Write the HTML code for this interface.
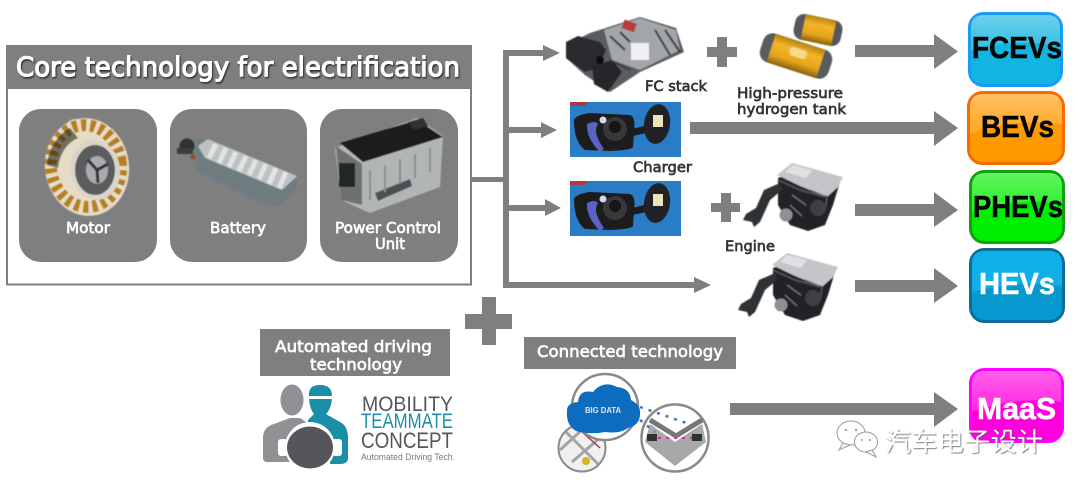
<!DOCTYPE html>
<html><head><meta charset="utf-8">
<style>
html,body{margin:0;padding:0;background:#fff;width:1080px;height:490px;overflow:hidden}
svg{display:block}
.l{font-family:"DejaVu Sans",sans-serif;fill:#333;stroke:#333;stroke-width:.65}
.w{font-family:"DejaVu Sans",sans-serif;fill:#fff;stroke:#fff;stroke-width:.65}
.b{font-family:"Liberation Sans",sans-serif;font-weight:bold;font-size:31px;stroke-width:.5}
.m{font-family:"Liberation Sans",sans-serif}
</style></head><body>
<svg width="1080" height="490" viewBox="0 0 1080 490" xmlns="http://www.w3.org/2000/svg">
<defs>
<filter id="s" x="-10%" y="-10%" width="120%" height="120%"><feGaussianBlur stdDeviation="0.6"/></filter>
<filter id="t" x="-5%" y="-20%" width="110%" height="140%"><feGaussianBlur stdDeviation="0.25"/></filter>
<filter id="sh" x="-5%" y="-20%" width="110%" height="140%"><feDropShadow dx="1" dy="1.500" stdDeviation="0.8" flood-color="#222" flood-opacity="0.9"/></filter>
<filter id="wm" x="-5%" y="-20%" width="110%" height="140%"><feDropShadow dx="0.8" dy="0.8" stdDeviation="0.4" flood-color="#555" flood-opacity="0.9"/></filter>
<linearGradient id="am" x1="0" y1="0" x2="0" y2="1"><stop offset="0" stop-color="#b5800f"/><stop offset=".3" stop-color="#f2b52a"/><stop offset=".7" stop-color="#e5a51a"/><stop offset="1" stop-color="#86600f"/></linearGradient>
<linearGradient id="gl" x1="0" y1="0" x2="0" y2="1"><stop offset="0" stop-color="#fff" stop-opacity=".38"/><stop offset="1" stop-color="#fff" stop-opacity=".14"/></linearGradient>
<g id="engine">
<polygon points="778,178 795,172 840,182 833,205 825,225 808,231 790,225 778,205" fill="#222426"/>
<polygon points="743,220 752,222 754,227 760,222 770,200 782,190 780,183 764,190 756,208 746,214" fill="#2e3134"/>
<polygon points="777,175 792,163 843,177 838,187 827,197 800,186" fill="#c3c5c8"/>
<polygon points="792,165 812,170 806,178 785,172" fill="#dfe0e2"/>
<path d="M778,180 L800,190 L827,197 L825,210" stroke="#4c4f52" stroke-width="2" fill="none"/>
<circle cx="786" cy="215" r="6.500" fill="#8d9094"/>
<circle cx="818" cy="208" r="8" fill="#3e4144"/>
<path d="M792,195 L806,205 M790,205 L802,216 M810,190 L824,196" stroke="#6a6d70" stroke-width="1.500"/>
</g>
<g id="charger">
<rect x="570" y="0" width="111" height="55" fill="#2a7cc6"/>
<path d="M570,0 h18 l-3,4 h-15z" fill="#a83a44"/>
<path d="M574,18 Q576,13 590,11 L630,13 Q636,15 634,30 L633,45 Q632,48 610,49 L585,48 Q574,40 574,18Z" fill="#1c1c1e"/>
<path d="M587,22 Q595,18 598,22 Q592,30 604,47 L600,50 Q586,36 587,22Z" fill="#5a62c4"/>
<circle cx="615" cy="27" r="12" fill="#38383a"/>
<circle cx="615" cy="25" r="6" fill="#151515"/>
<circle cx="603" cy="18" r="3.500" fill="#cfd8f0"/>
<polygon points="632,27 652,22 652,30 632,34" fill="#1c1c1e"/>
<ellipse cx="657" cy="22" rx="13" ry="20" fill="#242426" transform="rotate(8 657 22)"/>
<rect x="653" y="13" width="10" height="12" fill="#ece4b8"/>
</g>
</defs>

<!-- Core box -->
<rect x="7" y="46" width="464" height="238.500" fill="#fff" stroke="#7f7f7f" stroke-width="2"/>
<rect x="6" y="45" width="466" height="44" fill="#7f7f7f"/>
<text class="w" x="16" y="76" font-size="27" style="stroke-width:1.100" textLength="444" lengthAdjust="spacingAndGlyphs" filter="url(#sh)">Core technology for electrification</text>

<rect x="19" y="109" width="138" height="153" rx="22" fill="#7f7f7f"/>
<rect x="170" y="109" width="137" height="153" rx="22" fill="#7f7f7f"/>
<rect x="320" y="109" width="138" height="153" rx="22" fill="#7f7f7f"/>

<!-- Motor -->
<g filter="url(#s)">
<path d="M62,135 Q66,118 76,119 Q81,124 72,134Z" fill="#c9c5bb"/>
<ellipse cx="87" cy="167" rx="42" ry="49" fill="#e6dcc6" transform="rotate(-8 87 167)"/>
<ellipse cx="86" cy="166" rx="35" ry="41" fill="none" stroke="#b67f1e" stroke-width="12" stroke-dasharray="5 4" transform="rotate(-8 86 166)"/>
<path d="M47,165 A40,46 0 0 1 70,128 L78,138 A30,36 0 0 0 58,168Z" fill="#2a2418" opacity=".6"/>
<ellipse cx="95" cy="170" rx="25" ry="30" fill="#dad5c8" transform="rotate(-8 95 170)"/>
<ellipse cx="95" cy="170" rx="20" ry="25" fill="#5a5b5d"/>
<ellipse cx="97" cy="170" rx="11" ry="14" fill="#a9abae"/>
<path d="M97,170 L88,160 M97,170 L108,164 M97,170 L98,183" stroke="#333" stroke-width="3"/>
</g>
<!-- Battery -->
<g filter="url(#s)">
<polygon points="190,147 200,138 297,176 297,190 278,207 262,204 198,172" fill="#6f7d80"/>
<polygon points="198,146 208,139 297,176 282,190 205,158" fill="#bcc1c3"/>
<path d="M216,144 L209,158 M226,148 L219,163 M236,152 L229,167 M246,156 L239,171 M256,160 L249,175 M266,164 L259,179 M276,168 L269,184 M286,172 L279,188" stroke="#e2e4e4" stroke-width="5"/>
<circle cx="187" cy="146" r="7.500" fill="#2e3032"/>
<rect x="177" y="148" width="16" height="6" fill="#3c3c3c"/>
<circle cx="193" cy="157" r="2.500" fill="#a04030"/>
</g>
<!-- PCU -->
<g filter="url(#s)">
<polygon points="335,148 417,118 443,136 440,187 370,213 341,200" fill="#b2b5b6"/>
<polygon points="340,143 417,120 443,137 363,162" fill="#1c1d1f"/>
<polygon points="336,146 362,164 362,205 341,200" fill="#6e7072"/>
<rect x="339" y="163" width="16" height="24" fill="#232527"/>
<polygon points="375,193 410,179 412,186 378,201" fill="#4d5052"/>
<path d="M370,170 L370,200 M385,165 L385,192 M400,159 L400,184 M415,154 L415,178 M430,148 L430,172" stroke="#8a8d8f" stroke-width="2"/>
<polygon points="408,122 423,118 428,126 414,130" fill="#2f3032"/>
</g>
<text class="w" x="66" y="233" font-size="15" textLength="44" lengthAdjust="spacingAndGlyphs" filter="url(#t)">Motor</text>
<text class="w" x="210" y="233" font-size="15" textLength="56" lengthAdjust="spacingAndGlyphs" filter="url(#t)">Battery</text>
<text class="w" x="335" y="233" font-size="15" textLength="106" lengthAdjust="spacingAndGlyphs" filter="url(#t)">Power Control</text>
<text class="w" x="375" y="249" font-size="15" textLength="30" lengthAdjust="spacingAndGlyphs" filter="url(#t)">Unit</text>

<!-- Connectors -->
<g fill="#7f7f7f">
<rect x="472" y="177" width="34" height="5"/>
<rect x="503" y="50" width="6" height="238"/>
<polygon points="503,50 543,50 543,45 560,53 543,61 543,56 503,56"/>
<polygon points="506,127 541,127 541,122 557,130 541,138 541,133 506,133"/>
<polygon points="506,205 545,205 545,199 561,208 545,216 545,211 506,211"/>
<polygon points="503,282 694,282 694,277 711,285 694,293 694,288 503,288"/>
<polygon points="855,45 934,45 934,34 958,51.500 934,69 934,57 855,57"/>
<polygon points="690,122 934,122 934,111 958,128 934,146 934,134 690,134"/>
<polygon points="855,204 934,204 934,192 958,210 934,227 934,216 855,216"/>
<polygon points="855,280 934,280 934,268 958,286 934,303 934,292 855,292"/>
<polygon points="730,403 934,403 934,392 958,409 934,427 934,415 730,415"/>
<polygon points="717,37 727,37 727,47 737,47 737,57 727,57 727,67 717,67 717,57 707,57 707,47 717,47"/>
<polygon points="721,193 731,193 731,203 740,203 740,212 731,212 731,222 721,222 721,212 711,212 711,203 721,203"/>
<polygon points="482,297 496,297 496,314 512,314 512,329 496,329 496,345 482,345 482,329 465,329 465,314 482,314"/>
<rect x="260" y="329" width="190" height="47"/>
<rect x="524" y="337" width="212" height="32"/>
</g>

<!-- FC stack -->
<g filter="url(#s)">
<polygon points="566,45 590,33 640,17 676,28 684,52 640,72 610,92 585,75 566,58" fill="#5a5d61"/>
<polygon points="566,42 578,36 600,42 606,50 598,68 585,72 566,58" fill="#2a2b2e"/>
<polygon points="604,30 640,18 676,30 680,50 640,70 612,60" fill="#a2a5a9"/>
<rect x="631" y="43" width="18" height="17" fill="#f0f0f0"/>
<rect x="623" y="21" width="13" height="9" fill="#b93a3a" transform="rotate(20 628 25)"/>
<polygon points="592,66 612,60 622,72 608,92 594,84" fill="#26272a"/>
<path d="M610,36 L625,50 M620,32 L630,42 M655,30 L670,55 M665,30 L680,52 M610,60 L630,70" stroke="#3a3c40" stroke-width="2"/>
<circle cx="600" cy="60" r="4" fill="#101010"/>
</g>
<text class="l" x="645" y="91" font-size="14.500" textLength="62" lengthAdjust="spacingAndGlyphs" filter="url(#t)">FC stack</text>

<!-- Tanks -->
<g filter="url(#s)">
<g transform="rotate(12 818 30)">
<rect x="794" y="17" width="48" height="26" rx="9" fill="#55585c"/>
<rect x="803" y="17" width="31" height="26" fill="url(#am)"/>
</g>
<g transform="rotate(18 796 56)">
<rect x="760" y="41" width="72" height="30" rx="10" fill="#5a5d61"/>
<rect x="770" y="41" width="52" height="30" fill="url(#am)"/>
<rect x="788" y="48" width="18" height="9" rx="4" fill="#f5d88a"/>
</g>
</g>
<text class="l" x="737" y="98" font-size="14.500" textLength="106" lengthAdjust="spacingAndGlyphs" filter="url(#t)">High-pressure</text>
<text class="l" x="737" y="114" font-size="14.500" textLength="109" lengthAdjust="spacingAndGlyphs" filter="url(#t)">hydrogen tank</text>

<!-- Chargers -->
<g filter="url(#t)">
<use href="#charger" y="102"/>
<use href="#charger" y="181"/>
</g>
<text class="l" x="633" y="172" font-size="14.500" textLength="59" lengthAdjust="spacingAndGlyphs" filter="url(#t)">Charger</text>

<!-- Engines -->
<g filter="url(#s)">
<use href="#engine"/>
<use href="#engine" x="-5" y="90"/>
</g>
<text class="l" x="725" y="251" font-size="14.500" textLength="50" lengthAdjust="spacingAndGlyphs" filter="url(#t)">Engine</text>

<!-- Badges -->
<g>
<rect x="969.500" y="13.500" width="92" height="72" rx="14" fill="#12b4e0" stroke="#1a9cf5" stroke-width="3"/>
<path d="M971,50 V28 Q971,15 984,15 H1047 Q1060,15 1060,28 V46 Q1015,38 971,50Z" fill="url(#gl)"/>
<text class="b" x="972" y="58" textLength="90" lengthAdjust="spacingAndGlyphs" fill="#050505" stroke="#050505">FCEVs</text>

<rect x="968.500" y="92.500" width="95" height="71" rx="14" fill="#ff9900" stroke="#f66a00" stroke-width="3"/>
<path d="M970,134 V107 Q970,94 983,94 H1049 Q1062,94 1062,107 V124 Q1015,118 970,134Z" fill="url(#gl)"/>
<text class="b" x="981" y="137" textLength="73" lengthAdjust="spacingAndGlyphs" fill="#050505" stroke="#050505">BEVs</text>

<rect x="970.500" y="171.500" width="93" height="71" rx="14" fill="#00ee00" stroke="#10a010" stroke-width="3"/>
<path d="M972,213 V186 Q972,173 985,173 H1049 Q1062,173 1062,186 V203 Q1015,197 972,213Z" fill="url(#gl)"/>
<text class="b" x="973" y="217" textLength="90" lengthAdjust="spacingAndGlyphs" fill="#050505" stroke="#050505">PHEVs</text>

<rect x="970.500" y="249.500" width="93" height="72" rx="14" fill="#0898d0" stroke="#0a6d9c" stroke-width="3"/>
<path d="M972,292 V264 Q972,251 985,251 H1049 Q1062,251 1062,264 V286 Q1015,280 972,292Z" fill="#0fb0e8"/>
<text class="b" x="979" y="294" textLength="76" lengthAdjust="spacingAndGlyphs" fill="#fff" stroke="#fff">HEVs</text>

<rect x="970.500" y="369.500" width="92" height="72" rx="14" fill="#ff00dd" stroke="#ff00ff" stroke-width="3"/>
<path d="M972,412 V384 Q972,371 985,371 H1048 Q1061,371 1061,384 V402 Q1015,396 972,412Z" fill="url(#gl)"/>
<text class="b" x="977" y="419" textLength="79" lengthAdjust="spacingAndGlyphs" fill="#fff" stroke="#fff">MaaS</text>
</g>

<!-- Lower labels -->
<text class="w" x="275" y="352" font-size="16" textLength="157" lengthAdjust="spacingAndGlyphs" filter="url(#t)">Automated driving</text>
<text class="w" x="310" y="370" font-size="16" textLength="92" lengthAdjust="spacingAndGlyphs" filter="url(#t)">technology</text>
<text class="w" x="537" y="357" font-size="16" textLength="186" lengthAdjust="spacingAndGlyphs" filter="url(#t)">Connected technology</text>

<!-- Logo -->
<g filter="url(#t)">
<ellipse cx="292" cy="400" rx="11.500" ry="15.500" fill="#8f9194"/>
<path d="M263,458 V438 Q263,427 274,424 L290,418 H300 L312,426 V462 H270 Q263,463 263,458Z" fill="#8f9194"/>
<path d="M309,396 Q308,385 320,385 Q332,385 332,396 Q332,408 326,414 L340,422 Q348,426 348,438 V458 Q348,464 340,464 H330 V432 H308 V420 L314,414 Q309,408 309,396Z" fill="#1f8fa8"/>
<rect x="307" y="396" width="27" height="3" fill="#fff"/>
<circle cx="310" cy="447" r="25" fill="#fff"/>
<rect x="278" y="439" width="10" height="17" rx="3" fill="#fff"/>
<rect x="332" y="439" width="10" height="17" rx="3" fill="#fff"/>
<ellipse cx="310" cy="447.500" rx="23" ry="21" fill="#55575b"/>
</g>
<g class="m" filter="url(#t)">
<text x="362" y="411" font-size="21" fill="#55575b" textLength="91" lengthAdjust="spacingAndGlyphs">MOBILITY</text>
<text x="361" y="428" font-size="21" fill="#1f8fa8" textLength="92" lengthAdjust="spacingAndGlyphs">TEAMMATE</text>
<text x="361" y="448" font-size="22" fill="#55575b" textLength="92" lengthAdjust="spacingAndGlyphs">CONCEPT</text>
<text x="361" y="460" font-size="9" fill="#77797c" textLength="94" lengthAdjust="spacingAndGlyphs">Automated Driving Tech.</text>
</g>

<!-- Connected graphic -->
<g filter="url(#t)">
<circle cx="675" cy="438" r="33.500" fill="#fff" stroke="#8a8a8a" stroke-width="2.500"/>
<path d="M650,424 L675,442 L702,424 L706,442 L675,466 L645,442Z" fill="#a8a8a8"/>
<path d="M650,420 L676,436 L702,420" fill="none" stroke="#777" stroke-width="5"/>
<path d="M650,438 H702" stroke="#d92d9c" stroke-width="2" stroke-dasharray="3 5"/>
<path d="M640,407 L692,425 M640,420 L655,432" stroke="#3f78b8" stroke-width="2.500" stroke-dasharray="3 6" fill="none"/>
<rect x="647" y="434" width="10" height="7" fill="#333"/><rect x="692" y="434" width="10" height="7" fill="#333"/>
<circle cx="582" cy="448" r="23.500" fill="#f0f0f0" stroke="#8a8a8a" stroke-width="2"/>
<path d="M566,432 L598,464 M560,450 L585,427 M572,462 L602,436" stroke="#a4a4a4" stroke-width="3"/>
<path d="M580,430 L600,448" stroke="#a83a44" stroke-width="1.500"/>
<circle cx="586" cy="461" r="4" fill="#d8b020"/>
<circle cx="605" cy="407" r="33" fill="#fff" stroke="#8a8a8a" stroke-width="2.500"/>
<path d="M576,431 Q566,425 567,412 Q566,403 578,402 Q579,389 593,392 Q603,380 617,387 Q630,388 631,400 Q641,405 640,414 Q640,425 628,428 Q620,434 605,432 Q590,435 576,431Z" fill="#0f6cbd"/>
<text x="585" y="413" class="m" font-size="8" font-weight="bold" fill="#d8e8f6" textLength="36" lengthAdjust="spacingAndGlyphs">BIG DATA</text>
</g>

<!-- Watermark -->
<g fill="#fff" stroke="#999" stroke-width="1" filter="url(#t)">
<ellipse cx="851" cy="433" rx="14" ry="12"/>
<path d="M843,443 L839,450 L850,445Z"/>
<ellipse cx="866" cy="442" rx="11.500" ry="10"/>
<path d="M872,450 L876,457 L866,452Z"/>
</g>
<g fill="#aaa"><circle cx="846" cy="430" r="1.300"/><circle cx="856" cy="430" r="1.300"/><circle cx="862" cy="440" r="1.100"/><circle cx="870" cy="440" r="1.100"/></g>
<text x="885" y="451" font-family="'WenQuanYi Zen Hei','Noto Sans CJK SC',sans-serif" font-size="26" fill="#fff" textLength="158" filter="url(#wm)">汽车电子设计</text>
</svg>
</body></html>
